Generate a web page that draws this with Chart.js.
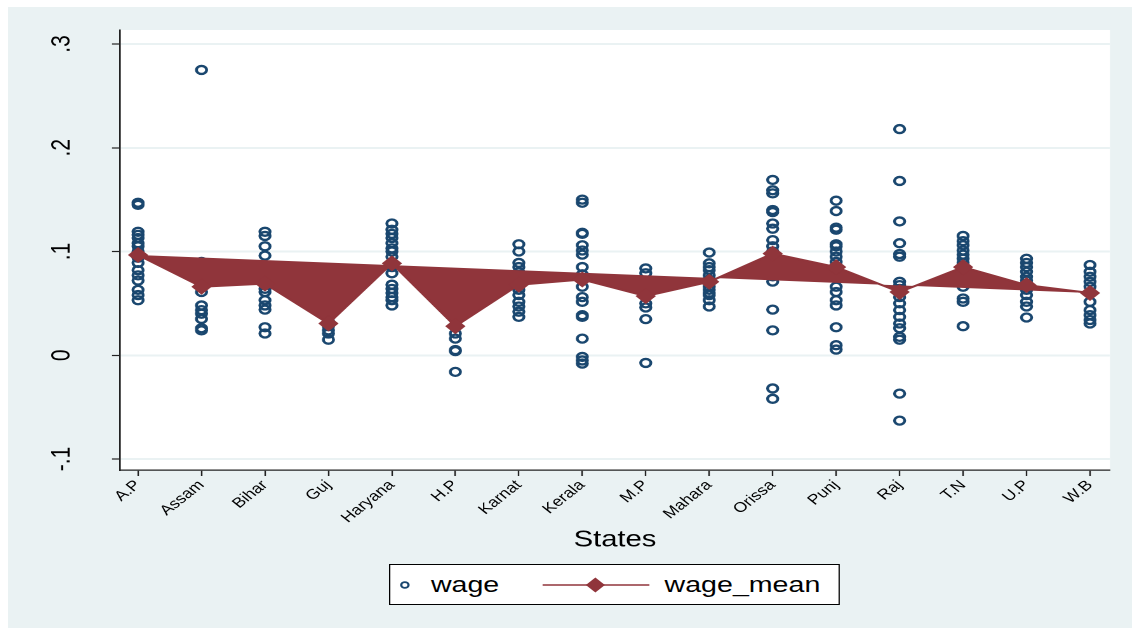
<!DOCTYPE html>
<html>
<head>
<meta charset="utf-8">
<title>wage by state</title>
<script src="https://cdn.jsdelivr.net/npm/chart.js@4.4.1/dist/chart.umd.min.js"></script>
<style>
  html, body { margin: 0; padding: 0; background: #fff; width: 1132px; height: 628px; overflow: hidden; }
  body { font-family: 'Liberation Sans', Arial, sans-serif; }
  /* the reference graph is stretched sideways, so the whole frame is too */
  #frame {
    position: absolute; left: 8px; top: 7px;
    width: 885px; height: 621px;
    background: #eaf2f3;
    transform: scaleX(1.27); transform-origin: 0 0;
  }
  #chart-wrap { position: absolute; left: 0; top: 0; width: 885px; height: 548px; }
  #legend {
    position: absolute; left: 300px; top: 557px; width: 355px; height: 41px;
    box-sizing: border-box; border: 1px solid #000; background: #fff;
    font-size: 22.5px; color: #000;
  }
  #legend svg { position: absolute; top: 0; }
  #legend .lbl { position: absolute; top: 7px; line-height: 26px; white-space: nowrap; }
</style>
</head>
<body>
<div id="frame">
  <div id="chart-wrap"><canvas id="wageChart"></canvas></div>
  <div id="legend">
    <svg style="left:5px" width="14" height="40"><circle cx="6.5" cy="20" r="2.9" fill="none" stroke="#1a476f" stroke-width="1.7"/></svg>
    <span class="lbl" style="left:32px">wage</span>
    <svg style="left:119px" width="88" height="40">
      <line x1="1" y1="20" x2="85" y2="20" stroke="#90353b" stroke-width="1.5"/>
      <polygon points="42.5,12.5 50,20 42.5,27.5 35,20" fill="#90353b"/>
    </svg>
    <span class="lbl" style="left:216px">wage_mean</span>
  </div>
</div>

<script>
const states = ['A.P', 'Assam', 'Bihar', 'Guj', 'Haryana', 'H.P', 'Karnat', 'Kerala',
  'M.P', 'Mahara', 'Orissa', 'Punj', 'Raj', 'T.N', 'U.P', 'W.B'];

// individual wage observations, one list per state
const wageAP = [0.147, 0.145, 0.119, 0.116, 0.113, 0.108, 0.105, 0.100, 0.097, 0.094, 0.089, 0.082, 0.077, 0.072, 0.063, 0.058, 0.053];
const wageAssam = [0.275, 0.090, 0.082, 0.075, 0.070, 0.066, 0.061, 0.048, 0.0435, 0.040, 0.035, 0.026, 0.024];
const wageBihar = [0.119, 0.115, 0.105, 0.096, 0.085, 0.078, 0.069, 0.064, 0.061, 0.053, 0.048, 0.044, 0.027, 0.021];
const wageGuj = [0.038, 0.033, 0.030, 0.028, 0.024, 0.021, 0.015];
const wageHaryana = [0.127, 0.121, 0.117, 0.113, 0.108, 0.103, 0.100, 0.095, 0.089, 0.085, 0.079, 0.068, 0.064, 0.060, 0.056, 0.053, 0.048];
const wageHP = [0.040, 0.035, 0.028, 0.021, 0.016, 0.005, 0.004, -0.016];
const wageKarnat = [0.107, 0.100, 0.089, 0.085, 0.080, 0.075, 0.068, 0.063, 0.058, 0.0515, 0.047, 0.042, 0.037];
const wageKerala = [0.150, 0.147, 0.118, 0.117, 0.106, 0.101, 0.097, 0.085, 0.078, 0.073, 0.066, 0.056, 0.0515, 0.0386, 0.037, 0.016, -0.0016, -0.005, -0.008];
const wageMP = [0.0837, 0.079, 0.070, 0.063, 0.057, 0.050, 0.046, 0.0348, -0.0074];
const wageMahara = [0.099, 0.0886, 0.085, 0.082, 0.077, 0.073, 0.0708, 0.066, 0.063, 0.060, 0.058, 0.053, 0.047];
const wageOrissa = [0.169, 0.159, 0.156, 0.140, 0.138, 0.127, 0.122, 0.111, 0.105, 0.100, 0.094, 0.088, 0.082, 0.076, 0.071, 0.044, 0.024, -0.032, -0.042];
const wagePunj = [0.149, 0.139, 0.123, 0.121, 0.107, 0.105, 0.100, 0.095, 0.090, 0.085, 0.080, 0.075, 0.066, 0.061, 0.053, 0.048, 0.027, 0.0097, 0.0055];
const wageRaj = [0.218, 0.168, 0.129, 0.108, 0.0976, 0.095, 0.0708, 0.0676, 0.064, 0.061, 0.056, 0.050, 0.0435, 0.037, 0.0306, 0.026, 0.0177, 0.015, -0.037, -0.063];
const wageTN = [0.115, 0.110, 0.106, 0.101, 0.097, 0.093, 0.089, 0.085, 0.078, 0.072, 0.066, 0.0547, 0.0515, 0.028];
const wageUP = [0.093, 0.089, 0.085, 0.0805, 0.0757, 0.072, 0.0676, 0.063, 0.058, 0.0515, 0.047, 0.0364];
const wageWB = [0.087, 0.0805, 0.0757, 0.0708, 0.066, 0.060, 0.0515, 0.0435, 0.0386, 0.034, 0.0306];

const wageByState = [wageAP, wageAssam, wageBihar, wageGuj, wageHaryana, wageHP, wageKarnat, wageKerala,
  wageMP, wageMahara, wageOrissa, wagePunj, wageRaj, wageTN, wageUP, wageWB];

const wageMean = [0.0966, 0.066, 0.069, 0.0306, 0.0886, 0.028, 0.068, 0.073,
  0.057, 0.0708, 0.098, 0.085, 0.061, 0.085, 0.0676, 0.060];

const yTickValues = [-0.1, 0, 0.1, 0.2, 0.3];
const yTickLabels = ['-.1', '0', '.1', '.2', '.3'];

const NAVY = '#1a476f';
const MAROON = '#90353b';
const FONT = "'Liberation Sans', Arial, sans-serif";

function buildPoints() {
  const pts = [];
  wageByState.forEach((list, i) => {
    list.forEach(v => pts.push({ x: i, y: v }));
  });
  return pts;
}

const meanPoints = wageMean.map((v, i) => ({ x: i, y: v }));
// straight edge from first to last mean, closing the shaded polygon
const closingEdge = [meanPoints[0], meanPoints[meanPoints.length - 1]];

const plotBackground = {
  id: 'plotBackground',
  beforeDraw(chart) {
    const { ctx, chartArea } = chart;
    ctx.save();
    ctx.fillStyle = '#ffffff';
    ctx.fillRect(chartArea.left, chartArea.top, chartArea.right - chartArea.left, chartArea.bottom - chartArea.top);
    ctx.restore();
  }
};

const ctx = document.getElementById('wageChart').getContext('2d');
new Chart(ctx, {
  type: 'line',
  data: {
    datasets: [
      {
        label: 'wage',
        data: buildPoints(),
        showLine: false,
        order: 2,
        pointStyle: 'circle',
        pointRadius: 4,
        pointBorderWidth: 2.3,
        pointBorderColor: NAVY,
        pointBackgroundColor: 'rgba(0,0,0,0)',
        borderColor: NAVY
      },
      {
        label: 'wage_mean',
        data: meanPoints,
        order: 1,
        tension: 0,
        borderColor: MAROON,
        borderWidth: 2,
        backgroundColor: MAROON,
        fill: '+1',
        pointStyle: 'rectRot',
        pointRadius: 8,
        pointBorderWidth: 0,
        pointBackgroundColor: MAROON
      },
      {
        label: 'edge',
        data: closingEdge,
        order: 3,
        borderColor: 'rgba(0,0,0,0)',
        borderWidth: 1,
        pointRadius: 0,
        fill: false
      }
    ]
  },
  options: {
    responsive: true,
    maintainAspectRatio: false,
    animation: false,
    events: [],
    devicePixelRatio: 2,
    layout: { padding: { top: 23, right: 17.3, left: 0, bottom: 0 } },
    plugins: {
      legend: { display: false },
      tooltip: { enabled: false }
    },
    scales: {
      x: {
        type: 'linear',
        min: -0.284,
        max: 15.315,
        afterFit: (scale) => { scale.height = 85; },
        afterBuildTicks: (scale) => { scale.ticks = states.map((_, i) => ({ value: i })); },
        grid: { drawOnChartArea: false, tickLength: 6, tickColor: '#222', tickWidth: 1.2 },
        border: { display: true, color: '#222', width: 1.3 },
        ticks: {
          autoSkip: false,
          minRotation: 45,
          maxRotation: 45,
          padding: 1,
          color: '#000',
          font: { family: FONT, size: 14 },
          callback: (value) => states[value]
        },
        title: {
          display: true,
          text: 'States',
          color: '#000',
          font: { family: FONT, size: 23 },
          padding: { top: 0, bottom: 1 }
        }
      },
      y: {
        min: -0.1106,
        max: 0.3135,
        afterFit: (scale) => {
          scale.width = 88.2;
          // the wide label padding should not push the plot area down
          scale.paddingTop = 0;
          scale.paddingBottom = 0;
        },
        afterBuildTicks: (scale) => { scale.ticks = yTickValues.map(v => ({ value: v })); },
        grid: { color: '#eaf2f3', lineWidth: 2, tickLength: 6.3, tickColor: '#222', tickWidth: 1.2 },
        border: { display: true, color: '#222', width: 1.3 },
        ticks: {
          minRotation: 90,
          maxRotation: 90,
          crossAlign: 'center',
          padding: 27,
          color: '#000',
          font: { family: FONT, size: 21 },
          callback: (value, index) => yTickLabels[index]
        }
      }
    }
  },
  plugins: [plotBackground]
});
</script>
</body>
</html>
